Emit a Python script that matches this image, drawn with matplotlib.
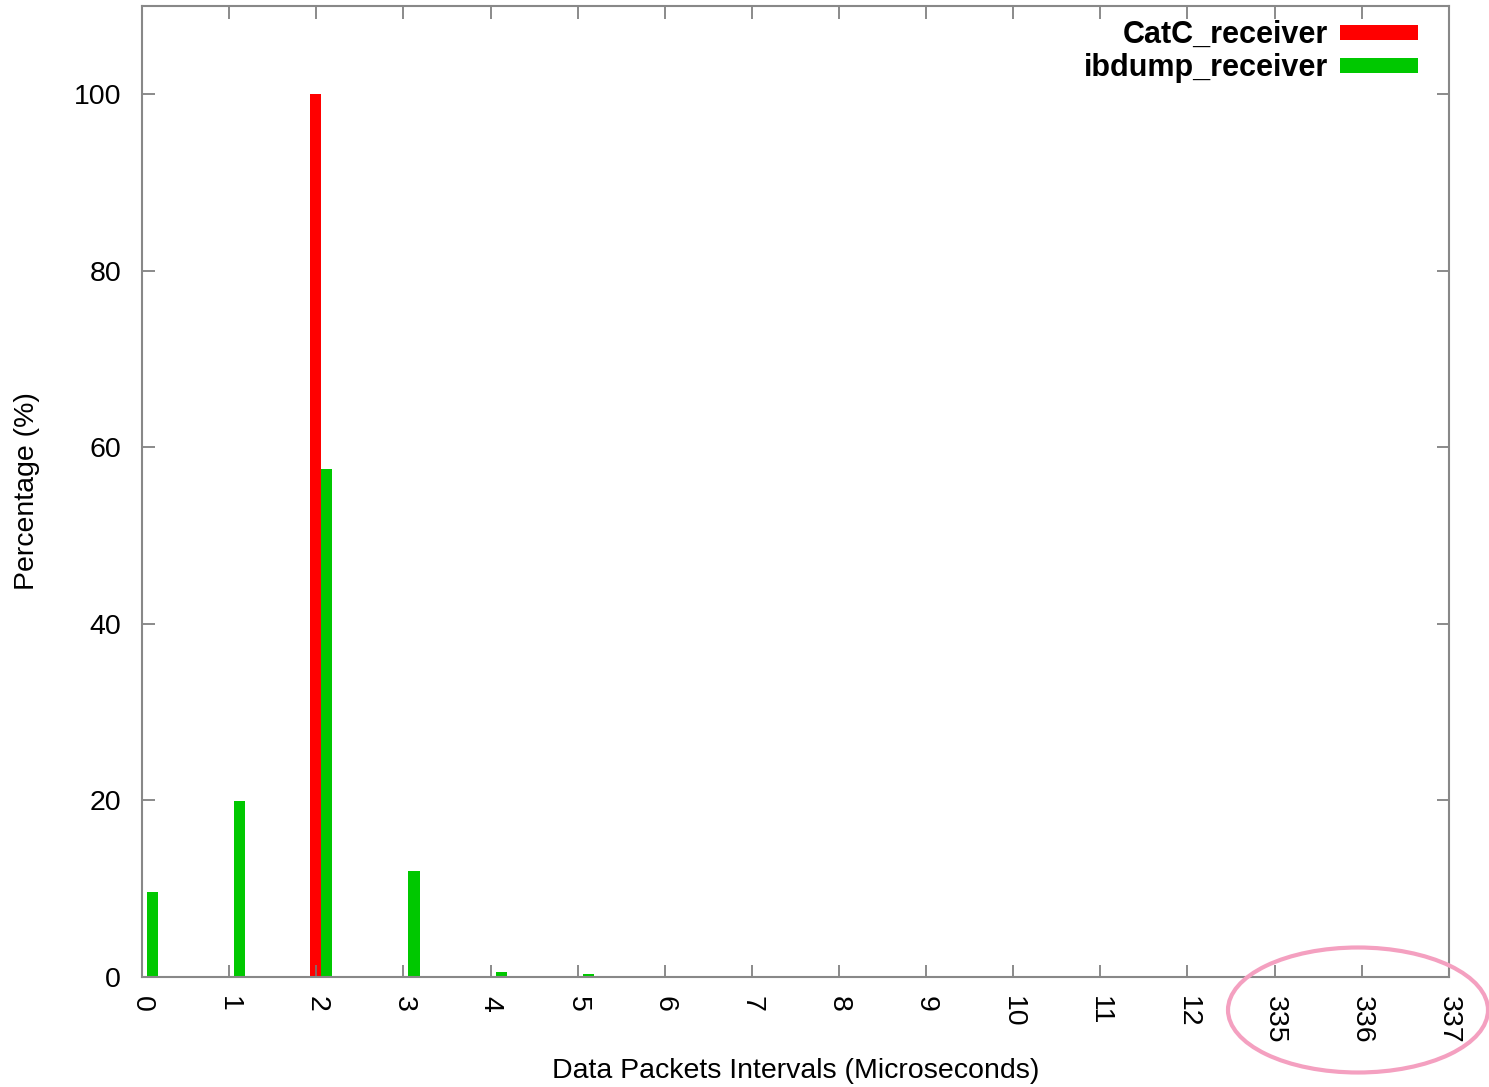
import matplotlib
matplotlib.use("Agg")
import matplotlib.pyplot as plt
import numpy as np
from matplotlib.patches import Ellipse

plt.rcParams["font.family"] = ["Liberation Sans", "DejaVu Sans"]

# intervalli (microsecondi) e percentuali
interval_labels = ["0", "1", "2", "3", "4", "5", "6", "7", "8", "9", "10", "11", "12",
                   "335", "336", "337"]
catc_receiver = [0, 0, 100, 0, 0, 0, 0, 0, 0, 0, 0, 0, 0, 0, 0, 0]
ibdump_receiver = [9.6, 19.9, 57.5, 12.0, 0.6, 0.3, 0.15, 0, 0, 0, 0, 0, 0, 0, 0, 0]

x = np.arange(len(interval_labels))
w = 0.128

fig = plt.figure(figsize=(14.89, 10.87), dpi=100)
ax = fig.add_axes([0.0954, 0.1012, 0.8776, 0.8933])

ax.bar(x - 0.005, catc_receiver, width=w, color="#ff0000", label="CatC_receiver")
ax.bar(x + 0.122, ibdump_receiver, width=w, color="#00c800", label="ibdump_receiver")

ax.set_xlim(0, len(interval_labels) - 1)
ax.set_ylim(0, 110)
ax.set_xticks(x)
ax.set_xticklabels(interval_labels, rotation=270, fontsize=20.5)
ax.set_yticks([0, 20, 40, 60, 80, 100])
ax.tick_params(axis="y", labelsize=20.5, pad=15)
ax.tick_params(axis="x", pad=14)
ax.tick_params(direction="in", top=True, right=True, length=9, width=1.2,
               color="#777777")

for s in ax.spines.values():
    s.set_color("#888888")
    s.set_linewidth(1.5)

ax.set_ylabel("Percentage (%)", fontsize=20.5, labelpad=24)
ax.set_xlabel("Data Packets Intervals (Microseconds)", fontsize=20.5)
ax.xaxis.set_label_coords(0.5, -0.097)
ax.xaxis.label.set_va("center")

leg = ax.legend(loc="upper right", markerfirst=False, frameon=False,
                prop={"weight": "bold", "size": 22}, handlelength=2.55,
                handleheight=0.4, labelspacing=0.1, borderaxespad=0.0,
                handletextpad=0.4, bbox_to_anchor=(0.986, 0.998))

# cerchio rosa di evidenziazione
ell = Ellipse((1358 / 1489, 1 - 1010 / 1087), 260 / 1489, 125 / 1087,
              transform=fig.transFigure, fill=False, edgecolor="#f4a0c0",
              linewidth=3, clip_on=False)
fig.patches.append(ell)

fig.savefig("out.png", dpi=100)
